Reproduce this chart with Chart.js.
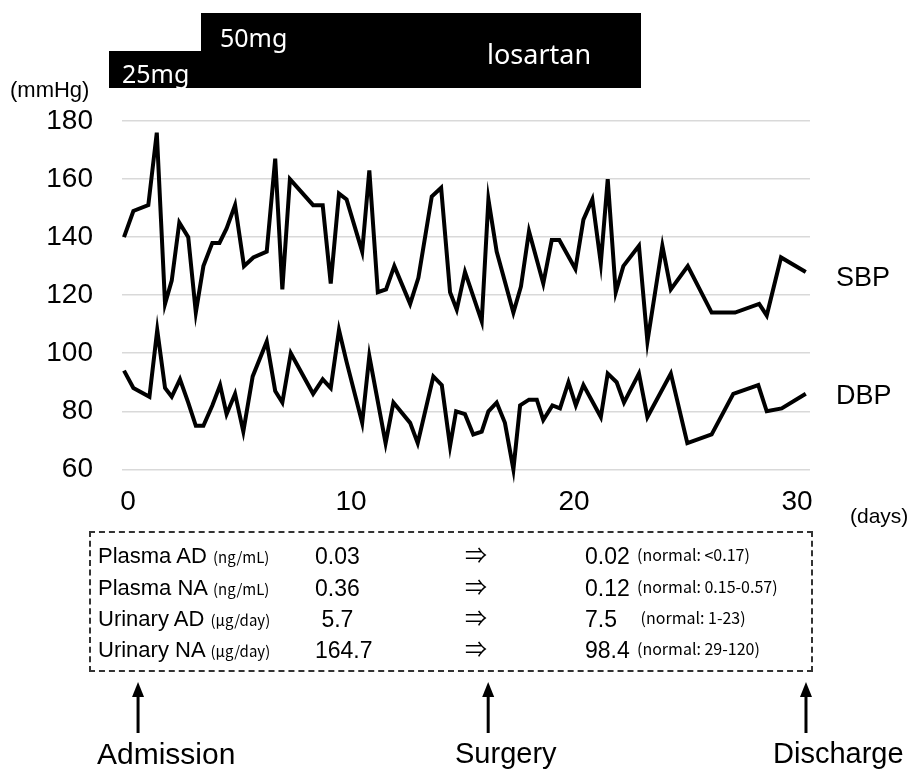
<!DOCTYPE html>
<html>
<head>
<meta charset="utf-8">
<script src="https://cdn.jsdelivr.net/npm/chart.js@4.4.1/dist/chart.umd.min.js"></script>
<style>
  body { margin: 0; background: #fff; }
  #wrap { position: relative; width: 918px; height: 770px; overflow: hidden; }
  #myChart { position: absolute; left: 0; top: 0; }
  .t { position: absolute; white-space: pre; line-height: 1; color: #000; font-family: "Liberation Sans", Arial, sans-serif; }
  .box { position: absolute; background: #000; }
  .w { color: #fff; font-family: "Noto Sans", sans-serif; }
  .jp { font-family: "Noto Sans CJK JP", sans-serif; }
  #table { position: absolute; left: 89px; top: 531px; width: 720px; height: 137px; border: 2px dashed #333; }
  svg { position: absolute; left: 0; top: 0; }
</style>
</head>
<body>
<div id="wrap">
  <canvas id="myChart" width="918" height="770"></canvas>

  <div class="box" style="left:109px; top:51px; width:94px; height:37px;"></div>
  <div class="box" style="left:201px; top:13px; width:440px; height:75px;"></div>
  <div class="t w" style="left:122px; top:61px; font-size:25px;">25mg</div>
  <div class="t w" style="left:220px; top:25px; font-size:25px;">50mg</div>
  <div class="t w" style="left:487px; top:40px; font-size:27px;">losartan</div>

  <div class="t" style="left:10px; top:79px; font-size:22px;">(mmHg)</div>
  <div class="t" style="left:850px; top:505px; font-size:21px;">(days)</div>
  <div class="t" style="left:836px; top:264px; font-size:27px;">SBP</div>
  <div class="t" style="left:836px; top:382px; font-size:27px;">DBP</div>

  <div id="table"></div>
  <div id="rows"></div>

  <svg width="918" height="770">
    <g id="arrows" fill="#000" stroke="#000"></g>
  </svg>
  <div class="t" style="left:97px; top:739px; font-size:30px;">Admission</div>
  <div class="t" style="left:455px; top:739px; font-size:29px;">Surgery</div>
  <div class="t" style="left:773px; top:739px; font-size:29px;">Discharge</div>
</div>

<script>
// blood pressure readings (day, mmHg)
var sbpDays = [-0.18, 0.24, 0.91, 1.29, 1.66, 1.96, 2.3, 2.7, 3.04, 3.38, 3.78, 4.1, 4.42, 4.8, 5.2, 5.62,
    6.22, 6.6, 6.92, 7.26, 8.3, 8.73, 9.09, 9.46, 9.8, 10.5, 10.82, 11.2, 11.57, 11.94, 12.65, 13.02,
    13.62, 14.04, 14.44, 14.74, 15.11, 15.86, 16.16, 16.53, 17.28, 17.62, 17.98, 18.62, 19.0, 19.34,
    20.06, 20.42, 20.82, 21.2, 21.51, 21.87, 22.21, 22.91, 23.29, 23.96, 24.34, 25.1, 26.17, 27.22,
    28.3, 28.64, 29.28, 30.39];
var sbp = [140, 149, 151, 176, 117, 125, 145, 140, 114, 130, 138, 138, 143, 151, 130, 133,
    135, 167, 122, 160, 151, 151, 124, 155, 153, 135, 163, 121, 122, 130, 117, 126,
    154, 157, 121, 115, 128, 111, 153, 135, 114, 123, 142, 124, 139, 139,
    129, 146, 153, 131, 160, 121, 130, 137, 104, 137, 122, 130, 114, 114,
    117, 113, 133, 128];

var dbpDays = [-0.18, 0.24, 0.96, 1.31, 1.66, 1.96, 2.33, 2.7, 3.04, 3.38, 3.78, 4.13, 4.42, 4.8, 5.17, 5.59,
    6.22, 6.6, 6.92, 7.3, 8.3, 8.73, 9.09, 9.46, 9.8, 10.5, 10.82, 11.55, 11.9, 12.65, 12.99, 13.69,
    14.07, 14.44, 14.71, 15.11, 15.48, 15.86, 16.16, 16.53, 16.9, 17.28, 17.58, 17.98, 18.33, 18.62,
    19.03, 19.37, 19.75, 20.08, 20.42, 21.2, 21.51, 21.91, 22.24, 22.91, 23.29, 24.34, 25.08, 26.17,
    27.14, 28.26, 28.64, 29.31, 30.39];
var dbp = [94, 88, 85, 108, 88, 85, 91, 83, 75, 75, 82, 89, 79, 86, 73, 92,
    104, 87, 83, 100, 86, 91, 88, 108, 97, 76, 99, 69, 83, 76, 69, 92,
    89, 68, 80, 79, 72, 73, 80, 83, 76, 60, 82, 84, 84, 77,
    82, 81, 90, 82, 89, 78, 93, 90, 83, 93, 78, 93, 69, 72,
    86, 89, 80, 81, 86];

var xTicks = [0, 10, 20, 30];
var yTicks = [60, 80, 100, 120, 140, 160, 180];

// catecholamine table
var tblNames = ['Plasma AD', 'Plasma NA', 'Urinary AD', 'Urinary NA'];
var tblUnits = ['(ng/mL)', '(ng/mL)', '(\u03bcg/day)', '(\u03bcg/day)'];
var tblBefore = ['0.03', '0.36', ' 5.7', '164.7'];
var tblAfter = ['0.02', '0.12', '7.5', '98.4'];
var tblNormal = ['(normal: <0.17)', '(normal: 0.15-0.57)', ' (normal: 1-23)', '(normal: 29-120)'];

// events below the table (day of event)
var eventDays = [0.45, 16.15, 30.4];

function pts(xs, ys) {
    var out = [];
    for (var i = 0; i < xs.length; i++) out.push({x: xs[i], y: ys[i]});
    return out;
}

var rowsHtml = '';
var rowY = [545, 577, 608, 639];
for (var i = 0; i < tblNames.length; i++) {
    rowsHtml += '<div class="t" style="left:98px; top:' + rowY[i] + 'px; font-size:22px;">' + tblNames[i] +
        ' <span class="jp" style="font-size:15px;">' + tblUnits[i] + '</span></div>';
    rowsHtml += '<div class="t" style="left:315px; top:' + rowY[i] + 'px; font-size:23px;">' + tblBefore[i] + '</div>';
    rowsHtml += '<div class="t jp" style="left:465px; top:' + (rowY[i] - 3) + 'px; font-size:22px;">\u21d2</div>';
    rowsHtml += '<div class="t" style="left:585px; top:' + rowY[i] + 'px; font-size:23px;">' + tblAfter[i] + '</div>';
    rowsHtml += '<div class="t jp" style="left:637px; top:' + (rowY[i] + 1) + 'px; font-size:16px;">' + tblNormal[i] + '</div>';
}
document.getElementById('rows').innerHTML = rowsHtml;

Chart.defaults.font.family = '"Liberation Sans", Arial, sans-serif';

var ctx = document.getElementById('myChart');
var chart = new Chart(ctx, {
    type: 'line',
    data: {
        datasets: [{
            label: 'SBP',
            data: pts(sbpDays, sbp),
            borderColor: '#000',
            borderWidth: 4,
            pointRadius: 0,
            tension: 0,
            clip: false
        },
        {
            label: 'DBP',
            data: pts(dbpDays, dbp),
            borderColor: '#000',
            borderWidth: 4,
            pointRadius: 0,
            tension: 0,
            clip: false
        }]
    },
    options: {
        responsive: false,
        animation: false,
        layout: { padding: { left: 0, top: 121, right: 108, bottom: 0 } },
        plugins: {
            legend: { display: false },
            tooltip: { enabled: false }
        },
        scales: {
            x: {
                type: 'linear',
                min: -0.27,
                max: 30.58,
                afterBuildTicks: function(s) { s.ticks = xTicks.map(function(v) { return {value: v}; }); },
                afterFit: function(s) { s.height = 300.7; },
                grid: { display: false },
                border: { display: false },
                ticks: { color: '#000', font: { size: 28 }, padding: 8, maxRotation: 0 }
            },
            y: {
                min: 60,
                max: 180,
                afterBuildTicks: function(s) { s.ticks = yTicks.map(function(v) { return {value: v}; }); },
                afterFit: function(s) { s.width = 122; },
                grid: { color: '#d9d9d9', lineWidth: 1.5, drawTicks: false },
                border: { display: false },
                ticks: { color: '#000', font: { size: 28 }, padding: 29 }
            }
        }
    }
});

// arrows under the table, placed with the x scale
var g = document.getElementById('arrows');
var svgHtml = '';
eventDays.forEach(function(d) {
    var x = chart.scales.x.getPixelForValue(d);
    svgHtml += '<line x1="' + x + '" y1="694" x2="' + x + '" y2="733" stroke-width="3"/>';
    svgHtml += '<polygon stroke="none" points="' + x + ',682 ' + (x - 6) + ',697 ' + (x + 6) + ',697"/>';
});
g.innerHTML = svgHtml;
</script>
</body>
</html>
